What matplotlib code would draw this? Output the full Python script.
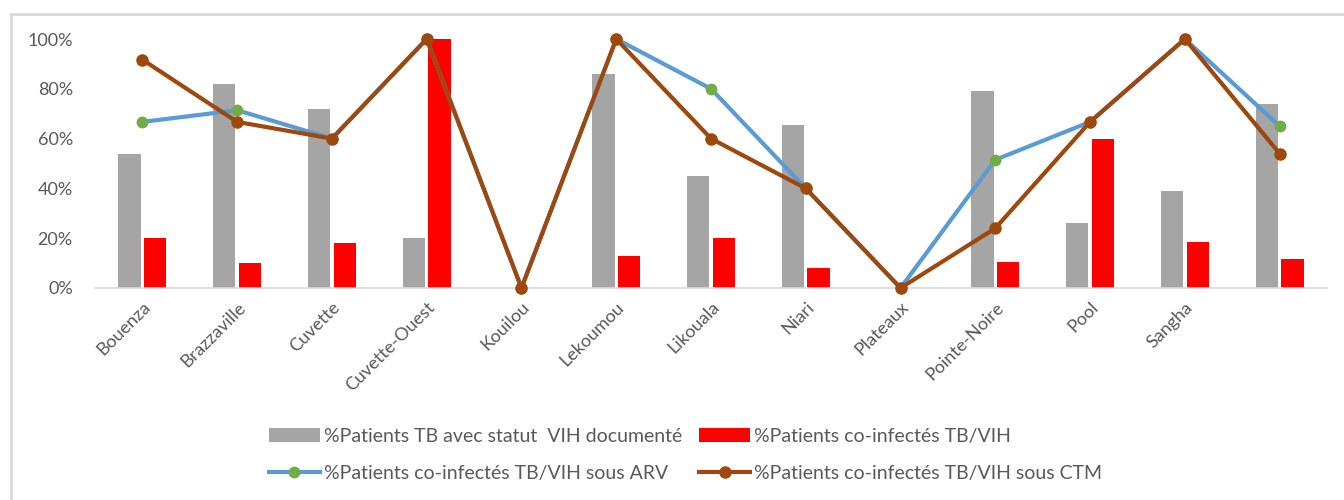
import numpy as np
import matplotlib
matplotlib.use("Agg")
import matplotlib.pyplot as plt
from matplotlib.lines import Line2D

plt.rcParams["font.family"] = ["Lato", "DejaVu Sans"]

# ---- data (in %) ----
regions = ["Bouenza", "Brazzaville", "Cuvette", "Cuvette-Ouest", "Kouilou", "Lekoumou",
           "Likouala", "Niari", "Plateaux", "Pointe-Noire", "Pool", "Sangha", ""]
statut_vih = [54, 82, 72, 20, 0, 86, 45, 65.5, 0, 79, 26, 39, 74]
coinfectes = [20, 10, 18, 100, 0, 13, 20, 8, 0, 10.5, 60, 18.5, 11.5]
sous_arv = [66.7, 71.4, 60, 100, 0, 100, 80, 40, 0, 51.5, 66.7, 100, 65]
sous_ctm = [91.7, 66.7, 60, 100, 0, 100, 60, 40, 0, 24, 66.7, 100, 54]

labels = ["%Patients TB avec statut  VIH documenté",
          "%Patients co-infectés TB/VIH",
          "%Patients co-infectés TB/VIH sous ARV",
          "%Patients co-infectés TB/VIH sous CTM"]

C = {"gray": "#A5A5A5", "red": "#FF0000", "blue": "#5B9BD5", "green": "#70AD47",
     "brown": "#9E480E", "txt": "#595959", "axis": "#D9D9D9"}

fig = plt.figure(figsize=(13.44, 5.0), dpi=100)
ax = fig.add_axes([95 / 1344, 1 - 288 / 500, (1327 - 95) / 1344, (288 - 39) / 500])

x = np.arange(len(regions))
w = 0.235
b1 = ax.bar(x - 0.135, statut_vih, width=w, color=C["gray"], label=labels[0])
b2 = ax.bar(x + 0.135, coinfectes, width=w, color=C["red"], label=labels[1])
l1, = ax.plot(x, sous_arv, color=C["blue"], lw=3, marker="o", ms=7.5,
              mfc=C["green"], mec=C["green"], clip_on=False, zorder=3, label=labels[2])
l2, = ax.plot(x, sous_ctm, color=C["brown"], lw=3, marker="o", ms=8,
              mfc=C["brown"], mec=C["brown"], clip_on=False, zorder=4, label=labels[3])

ax.set_xlim(-0.5, len(regions) - 0.5)
ax.set_ylim(0, 100)
ax.set_yticks(np.arange(0, 101, 20))
ax.set_yticklabels([f"{v}%" for v in range(0, 101, 20)])
ax.set_xticks(x)
ax.set_xticklabels(regions, rotation=45, ha="right", rotation_mode="anchor")
ax.tick_params(axis="both", length=0, labelsize=13, colors=C["txt"])
ax.tick_params(axis="y", pad=16)
ax.tick_params(axis="x", pad=8)
for s in ("top", "right", "left"):
    ax.spines[s].set_visible(False)
ax.spines["bottom"].set_color(C["axis"])
ax.spines["bottom"].set_linewidth(1.2)

# legend: row 1 bars, row 2 lines
fig.legend([b1, l1, b2, l2], [labels[0], labels[2], labels[1], labels[3]],
           ncol=2, loc="center", bbox_to_anchor=(0.51, 0.09), frameon=False,
           fontsize=14, labelcolor=C["txt"], handlelength=2.6, handletextpad=0.2,
           columnspacing=0.9, labelspacing=1.05)

# outer chart frame (left and top edges visible in the crop)
fig.add_artist(Line2D([11 / 1344, 11 / 1344], [0, 1 - 14 / 500], color=C["axis"], lw=2,
                      transform=fig.transFigure))
fig.add_artist(Line2D([11 / 1344, 1], [1 - 14 / 500, 1 - 14 / 500], color=C["axis"], lw=2,
                      transform=fig.transFigure))

fig.savefig("out.png", dpi=100)
